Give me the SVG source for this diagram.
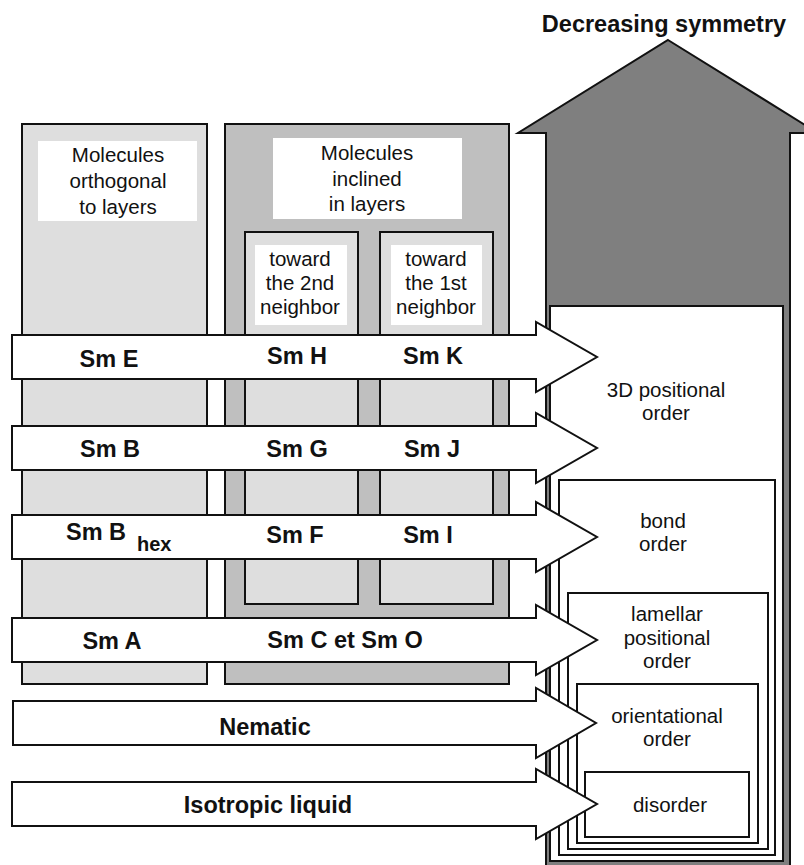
<svg xmlns="http://www.w3.org/2000/svg" width="804" height="865" viewBox="0 0 804 865">
<style>
.ln{stroke:#111;stroke-width:2;stroke-linejoin:miter}
.wbox{fill:#fff}
.lg{fill:#dedede}
.mg{fill:#bfbfbf}
.lab{fill:#fff;stroke:none}
.arrow{fill:#fff;stroke:#111;stroke-width:2}
.b{font-family:"Liberation Sans",Arial,Helvetica,sans-serif;font-weight:bold;font-size:23.5px;fill:#111;text-anchor:middle}
.r{font-family:"Liberation Sans",Arial,Helvetica,sans-serif;font-size:20.5px;fill:#111;text-anchor:middle}
</style>
<rect width="804" height="865" fill="#fff"/>

<g id="symmetry-arrow">
<polygon class="ln" fill="#7f7f7f" points="668,40 818,133 790,133 790,868 546,868 546,133 518,133"/>
<text class="b" x="664" y="32">Decreasing symmetry</text>
</g>

<g id="order-3d">
<rect class="ln wbox" x="550" y="306" width="233" height="555"/>
<text class="r" x="666" y="397">3D positional</text>
<text class="r" x="666" y="420">order</text>
</g>
<g id="order-bond">
<rect class="ln wbox" x="559" y="480" width="216" height="375"/>
<text class="r" x="663" y="528">bond</text>
<text class="r" x="663" y="551">order</text>
</g>
<g id="order-lamellar">
<rect class="ln wbox" x="568" y="593" width="200" height="256"/>
<text class="r" x="667" y="621">lamellar</text>
<text class="r" x="667" y="645">positional</text>
<text class="r" x="667" y="668">order</text>
</g>
<g id="order-orientational">
<rect class="ln wbox" x="577" y="684" width="181" height="159"/>
<text class="r" x="667" y="723">orientational</text>
<text class="r" x="667" y="746">order</text>
</g>
<g id="order-disorder">
<rect class="ln wbox" x="585" y="772" width="164" height="65"/>
<text class="r" x="670" y="812">disorder</text>
</g>

<g id="orthogonal">
<rect class="ln lg" x="22" y="124" width="185" height="560"/>
<rect class="lab" x="38" y="141" width="159" height="80"/>
<text class="r" x="118" y="162">Molecules</text>
<text class="r" x="118" y="188">orthogonal</text>
<text class="r" x="118" y="214">to layers</text>
</g>

<g id="inclined">
<rect class="ln mg" x="225" y="124" width="284" height="560"/>
<rect class="lab" x="273" y="138" width="189" height="81"/>
<text class="r" x="367" y="160">Molecules</text>
<text class="r" x="367" y="186">inclined</text>
<text class="r" x="367" y="211">in layers</text>
</g>
<g id="second-neighbor">
<rect class="ln lg" x="245" y="232" width="113" height="372"/>
<rect class="lab" x="255" y="245" width="92" height="80"/>
<text class="r" x="300" y="266">toward</text>
<text class="r" x="300" y="290">the 2nd</text>
<text class="r" x="300" y="314">neighbor</text>
</g>
<g id="first-neighbor">
<rect class="ln lg" x="380" y="232" width="113" height="372"/>
<rect class="lab" x="391" y="245" width="91" height="80"/>
<text class="r" x="436" y="266">toward</text>
<text class="r" x="436" y="290">the 1st</text>
<text class="r" x="436" y="314">neighbor</text>
</g>

<g id="connectors">
<g id="row-3d">
<polygon class="arrow" points="12,335 536,335 536,322 597,357 536,392 536,379 12,379"/>
<text class="b" x="109" y="367">Sm E</text>
<text class="b" x="297" y="364">Sm H</text>
<text class="b" x="433" y="364">Sm K</text>
</g>
<g id="row-b">
<polygon class="arrow" points="12,426 536,426 536,413 597,448 536,483 536,470 12,470"/>
<text class="b" x="110" y="457">Sm B</text>
<text class="b" x="297" y="457">Sm G</text>
<text class="b" x="432" y="457">Sm J</text>
</g>
<g id="row-bond">
<polygon class="arrow" points="12,515 536,515 536,502 597,537 536,572 536,559 12,559"/>
<text class="b" x="66" y="540" style="text-anchor:start">Sm B</text>
<text class="b" x="137" y="551" style="text-anchor:start;font-size:20px">hex</text>
<text class="b" x="295" y="543">Sm F</text>
<text class="b" x="428" y="543">Sm I</text>
</g>
<g id="row-lamellar">
<polygon class="arrow" points="12,618 536,618 536,605 597,640 536,675 536,662 12,662"/>
<text class="b" x="112" y="649">Sm A</text>
<text class="b" x="345" y="648">Sm C et Sm O</text>
</g>
<g id="row-nematic">
<polygon class="arrow" points="13,701 536,701 536,688 596,723 536,758 536,745 13,745"/>
<text class="b" x="265" y="735">Nematic</text>
</g>
<g id="row-isotropic">
<polygon class="arrow" points="12,782 536,782 536,769 597,804 536,839 536,826 12,826"/>
<text class="b" x="268" y="813">Isotropic liquid</text>
</g>
</g>
</svg>
